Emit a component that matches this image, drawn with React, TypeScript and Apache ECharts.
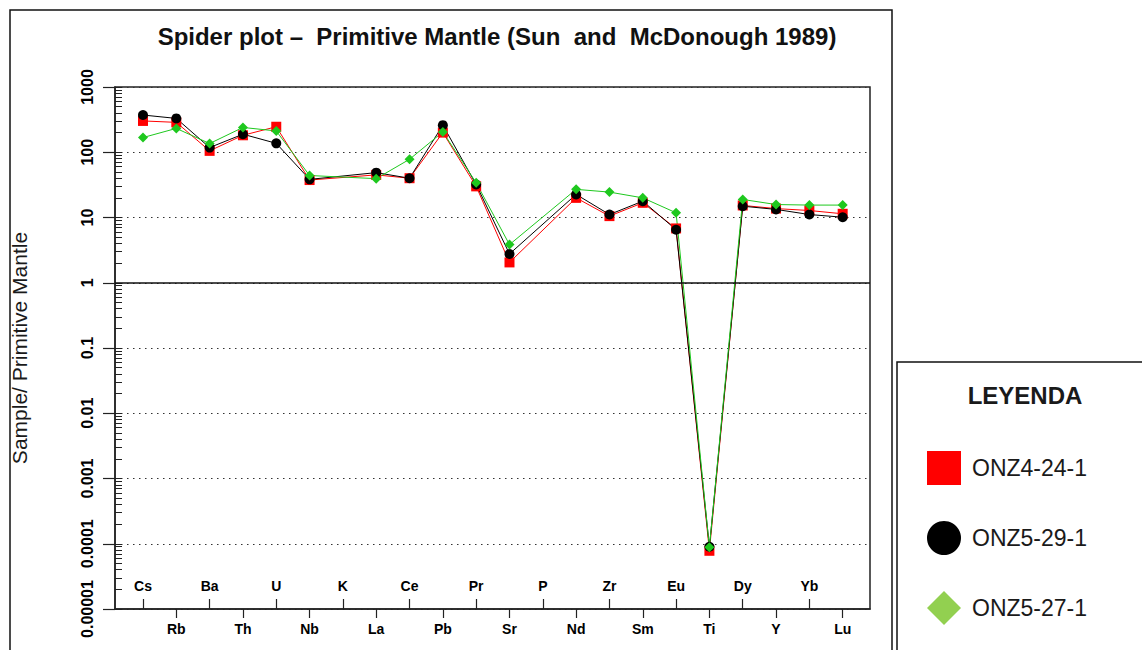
import React, { useEffect, useRef } from 'react';
import * as echarts from 'echarts';

// Element order (x axis categories)
const elements = ['Cs', 'Rb', 'Ba', 'Th', 'U', 'Nb', 'K', 'La', 'Ce', 'Pb', 'Pr', 'Sr', 'P', 'Nd', 'Zr', 'Sm', 'Eu', 'Ti', 'Dy', 'Y', 'Yb', 'Lu'];

// Sample / Primitive Mantle values (null = not analysed)
const onz4_24_1 = [302, 287, 105, 182, 246, 37.5, null, 45, 40, 200, 30, 2.05, null, 20, 10.5, 16.8, 6.8, 0.000078, 15.3, 13.7, 12.8, 11.4];
const onz5_29_1 = [372, 330, 118, 189, 137, 38.4, null, 48.7, 40, 260, 32, 2.76, null, 22.6, 11.1, 17.8, 6.5, 0.00009, 14.9, 13.3, 11.1, 10.1];
const onz5_27_1 = [168, 232, 136, 240, 212, 44, null, 39.4, 78, 205, 34, 3.84, null, 27, 24.5, 20, 11.8, 0.000088, 18.9, 15.8, 15.5, 15.5];

// Y axis decades and their labels
const yTicks = [0.00001, 0.0001, 0.001, 0.01, 0.1, 1, 10, 100, 1000];
const yTickLabels = ['0.00001', '0.0001', '0.001', '0.01', '0.1', '1', '10', '100', '1000'];

const seriesNames = ['ONZ4-24-1', 'ONZ5-29-1', 'ONZ5-27-1'];

function toPoints(vals: (number | null)[]) {
  const pts: [number, number][] = [];
  vals.forEach((v, i) => {
    if (v !== null) pts.push([i, v]);
  });
  return pts;
}

export default function App() {
  const ref = useRef<HTMLDivElement>(null);

  useEffect(() => {
    if (!ref.current) return;
    const chart = echarts.init(ref.current, undefined, { renderer: 'svg' });

    const minorTicks: number[] = [];
    for (let d = 0; d < yTicks.length - 1; d++) {
      for (let k = 1; k <= 9; k++) minorTicks.push(parseFloat((yTicks[d] * k).toPrecision(6)));
    }
    minorTicks.push(yTicks[yTicks.length - 1]);

    const evenIdx = elements.map((_, i) => i).filter((i) => i % 2 === 0);
    const oddIdx = elements.map((_, i) => i).filter((i) => i % 2 === 1);

    const labelFont = {
      fontFamily: 'Liberation Sans Narrow, Liberation Sans, Arial',
      fontWeight: 'bold' as const,
      color: '#000',
    };

    const yLabel = (v: number) => {
      let best = 0;
      let bd = Infinity;
      yTicks.forEach((t, i) => {
        const d = Math.abs(Math.log10(t) - Math.log10(v));
        if (d < bd) {
          bd = d;
          best = i;
        }
      });
      return yTickLabels[best];
    };

    const xCommon = {
      type: 'value' as const,
      min: -0.84,
      max: 21.82,
      position: 'bottom' as const,
      splitLine: { show: false },
    };

    chart.setOption({
      animation: false,
      backgroundColor: '#fff',
      title: {
        text: 'Spider plot –  Primitive Mantle (Sun  and  McDonough 1989)',
        left: 492,
        top: 19,
        textAlign: 'center',
        textStyle: {
          fontFamily: 'Liberation Sans, Arial',
          fontWeight: 'bold',
          fontSize: 24,
          color: '#111',
        },
      },
      graphic: [
        {
          type: 'rect',
          shape: { x: 10, y: 10, width: 882, height: 700 },
          style: { fill: 'none', stroke: '#111', lineWidth: 1.5 },
          silent: true,
        },
        {
          type: 'rect',
          shape: { x: 897, y: 362, width: 260, height: 320 },
          style: { fill: '#fff', stroke: '#111', lineWidth: 1.5 },
          silent: true,
        },
        {
          type: 'text',
          x: 1025,
          y: 395,
          style: {
            text: 'LEYENDA',
            fontFamily: 'Liberation Sans, Arial',
            fontWeight: 'bold',
            fontSize: 24,
            fill: '#1a1a1a',
            align: 'center',
            verticalAlign: 'middle',
          },
          silent: true,
        },
      ],
      legend: {
        orient: 'vertical',
        left: 922,
        top: 446,
        itemWidth: 34,
        itemHeight: 34,
        itemGap: 36,
        selectedMode: false,
        textStyle: {
          fontFamily: 'Liberation Sans, Arial',
          fontSize: 23,
          color: '#1a1a1a',
          padding: [0, 0, 0, 6],
        },
        data: [
          { name: seriesNames[0], icon: 'rect', itemStyle: { color: '#ff0000' } },
          { name: seriesNames[1], icon: 'circle', itemStyle: { color: '#000000' } },
          { name: seriesNames[2], icon: 'diamond', itemStyle: { color: '#92d050' } },
        ],
      },
      grid: {
        left: 115,
        top: 87,
        right: 272,
        bottom: 41,
        show: true,
        borderColor: '#222',
        borderWidth: 1.5,
        backgroundColor: 'transparent',
      },
      xAxis: [
        {
          ...xCommon,
          axisLine: { show: true, onZero: false, lineStyle: { color: '#222', width: 1.5 } },
          axisTick: { show: true, inside: true, length: 10, customValues: evenIdx, lineStyle: { color: '#222', width: 1.2 } },
          axisLabel: {
            show: true,
            inside: true,
            margin: 16,
            customValues: evenIdx,
            formatter: (v: number) => elements[Math.round(v)] ?? '',
            fontSize: 14,
            lineHeight: 14,
            ...labelFont,
          },
        },
        {
          ...xCommon,
          axisLine: { show: false, onZero: false },
          axisTick: { show: true, inside: false, length: 9, customValues: oddIdx, lineStyle: { color: '#222', width: 1.2 } },
          axisLabel: {
            show: true,
            inside: false,
            margin: 13,
            customValues: oddIdx,
            formatter: (v: number) => elements[Math.round(v)] ?? '',
            fontSize: 14,
            lineHeight: 14,
            ...labelFont,
          },
        },
      ],
      yAxis: [
        {
          type: 'log',
          logBase: 10,
          min: yTicks[0],
          max: yTicks[yTicks.length - 1],
          position: 'left',
          name: 'Sample/ Primitive Mantle',
          nameLocation: 'middle',
          nameGap: 85,
          nameRotate: 90,
          nameTextStyle: {
            fontFamily: 'Liberation Sans, Arial',
            fontSize: 21,
            color: '#1a1a1a',
          },
          axisLine: { show: true, onZero: false, lineStyle: { color: '#222', width: 1.5 } },
          axisTick: { show: true, inside: false, length: 12, customValues: yTicks, lineStyle: { color: '#222', width: 1.2 } },
          axisLabel: {
            show: true,
            rotate: 90,
            margin: 20,
            customValues: yTicks,
            formatter: yLabel,
            fontSize: 16,
            ...labelFont,
          },
          splitLine: {
            show: true,
            lineStyle: { color: '#333', type: [1.5, 4.5], width: 1.2 },
          },
        },
        {
          type: 'log',
          logBase: 10,
          min: yTicks[0],
          max: yTicks[yTicks.length - 1],
          position: 'left',
          axisLine: { show: false, onZero: false },
          axisTick: { show: true, inside: true, length: 7, customValues: minorTicks, lineStyle: { color: '#222', width: 1 } },
          axisLabel: { show: false },
          splitLine: { show: false },
        },
      ],
      series: [
        {
          name: seriesNames[0],
          type: 'line',
          xAxisIndex: 0,
          yAxisIndex: 0,
          data: toPoints(onz4_24_1),
          symbol: 'rect',
          symbolSize: 10,
          itemStyle: { color: '#ff0000' },
          lineStyle: { color: '#ff0000', width: 1 },
          markLine: {
            silent: true,
            symbol: 'none',
            label: { show: false },
            lineStyle: { color: '#111', type: 'solid', width: 1.5 },
            data: [{ yAxis: 1 }],
          },
        },
        {
          name: seriesNames[1],
          type: 'line',
          xAxisIndex: 0,
          yAxisIndex: 0,
          data: toPoints(onz5_29_1),
          symbol: 'circle',
          symbolSize: 10,
          itemStyle: { color: '#000000' },
          lineStyle: { color: '#000000', width: 1 },
        },
        {
          name: seriesNames[2],
          type: 'line',
          xAxisIndex: 0,
          yAxisIndex: 0,
          data: toPoints(onz5_27_1),
          symbol: 'diamond',
          symbolSize: 10,
          itemStyle: { color: '#1ec81e' },
          lineStyle: { color: '#1ec81e', width: 1 },
        },
      ],
    });

    return () => chart.dispose();
  }, []);

  return (
    <div
      ref={ref}
      style={{ position: 'fixed', left: 0, top: 0, width: 1142, height: 650 }}
    />
  );
}
